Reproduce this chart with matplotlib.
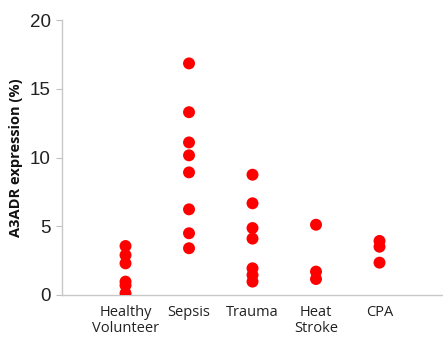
import matplotlib
matplotlib.use("Agg")
import matplotlib.pyplot as plt

categories = ["Healthy\nVolunteer", "Sepsis", "Trauma", "Heat\nStroke", "CPA"]
healthy = [3.56, 2.9, 2.3, 0.97, 0.7, 0.12]
sepsis = [16.85, 13.3, 11.1, 10.16, 8.92, 6.23, 4.49, 3.4]
trauma = [8.75, 6.67, 4.87, 4.1, 1.94, 1.45, 0.97]
heat_stroke = [5.11, 1.7, 1.16]
cpa = [3.93, 3.51, 2.35]
groups = [healthy, sepsis, trauma, heat_stroke, cpa]
yticks = [0, 5, 10, 15, 20]

plt.rcParams['font.family'] = ['Open Sans', 'DejaVu Sans']
fig = plt.figure(figsize=(4.43, 3.47), dpi=100)
ax = fig.add_axes([0.14, 0.15, 0.86, 0.792])

for i, vals in enumerate(groups, start=1):
    ax.scatter([i] * len(vals), vals, s=74, color="#ff0000", edgecolors="none", zorder=3)

ax.set_xlim(0, 6)
ax.set_ylim(0, 20)
ax.set_yticks(yticks)
ax.set_yticklabels([str(t) for t in yticks], family=["Liberation Sans", "DejaVu Sans"])
ax.set_xticks(range(1, len(categories) + 1))
ax.set_xticklabels(categories, fontsize=10.5, color="#222222", linespacing=1.1)
ax.tick_params(axis="y", labelsize=13.5, colors="#222222", length=4, color="#bfbfbf", pad=4)
ax.tick_params(axis="x", length=0, pad=7)
ax.set_ylabel("A3ADR expression (%)", fontsize=10.5, fontweight="bold", color="#111111", labelpad=5)

for side in ["top", "right"]:
    ax.spines[side].set_visible(False)
for side in ["left", "bottom"]:
    ax.spines[side].set_color("#c8c8c8")
    ax.spines[side].set_linewidth(1.0)

fig.savefig("out.png", dpi=100)
